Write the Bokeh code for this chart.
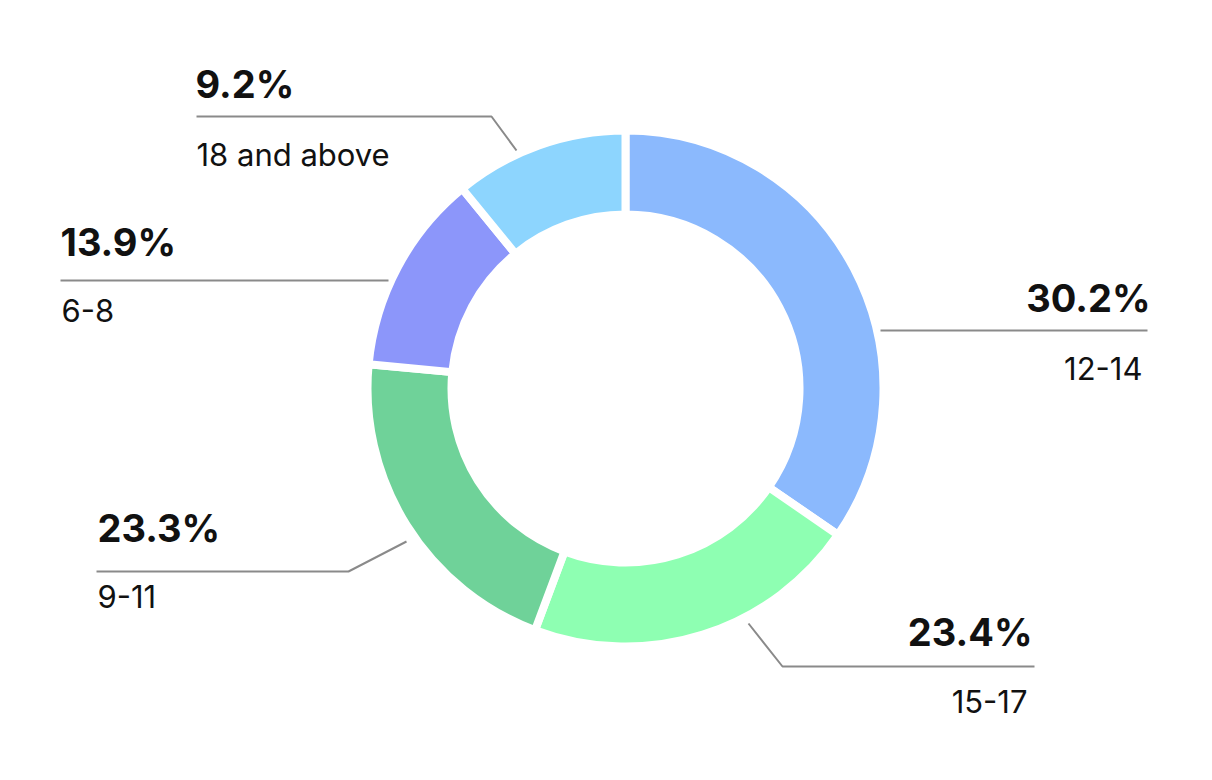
import math
from bokeh.plotting import figure
from bokeh.models import Range1d, ColumnDataSource
from bokeh.core.properties import value
from bokeh.embed import file_html
from bokeh.resources import INLINE

# ---- data ----
categories = ["12-14", "15-17", "9-11", "6-8", "18 and above"]
shares = [30.2, 23.4, 23.3, 13.9, 9.2]            # labelled percentages
arc_shares = [34.6, 21.1, 20.8, 12.6, 10.9]       # arc sizes as drawn in the picture
colors = ["#8BB9FD", "#8EFFB2", "#6FD299", "#8C96FA", "#8DD5FE"]

# ---- layout (page pixel coordinates) ----
CX, CY = 625, 388
R_OUT, R_IN = 258, 174
FONT = "Inter"
PCT_SHIFT, NAME_SHIFT = 15, 12

# per-label layout: text anchor x, align, pct baseline, name baseline, leader polyline
label_layout = {
    "12-14": dict(x=1150, nx=1142, align="right", py=312, ny=380,
                  line=[(1147, 330), (880, 330)]),
    "15-17": dict(x=1032, nx=1027, align="right", py=646, ny=713,
                  line=[(1034, 666), (782, 666), (748, 623)]),
    "9-11": dict(x=97, nx=97, align="left", py=542, ny=608,
                 line=[(96, 571), (348, 571), (406, 541)]),
    "6-8": dict(x=60, nx=61, align="left", py=256, ny=322,
                line=[(60, 280), (388, 280)]),
    "18 and above": dict(x=195, nx=196, align="left", py=98, ny=166,
                         line=[(196, 116), (491, 116), (516, 150)]),
}

W, H = 1196, 764
p = figure(width=W, height=H, output_backend="svg", toolbar_location=None,
           x_range=Range1d(0, W), y_range=Range1d(-H, 0),
           min_border=0)
p.axis.visible = False
p.grid.visible = False
p.outline_line_color = None
p.background_fill_color = "white"

total = sum(arc_shares)
starts, ends = [], []
cum = 0.0
for s in arc_shares:
    starts.append(math.pi / 2 - 2 * math.pi * cum / total)
    cum += s
    ends.append(math.pi / 2 - 2 * math.pi * cum / total)

src = ColumnDataSource(dict(cat=categories, share=shares, color=colors,
                            start=starts, end=ends))
p.annular_wedge(x=CX, y=-CY, inner_radius=R_IN, outer_radius=R_OUT,
                start_angle="start", end_angle="end", direction="clock",
                fill_color="color", line_color="white", line_width=8,
                source=src)

for cat, s in zip(categories, shares):
    lay = label_layout[cat]
    xs = [pt[0] for pt in lay["line"]]
    ys = [-pt[1] for pt in lay["line"]]
    p.line(xs, ys, line_color="#8a8a8a", line_width=2)
    p.text(x=[lay["x"]], y=[-(lay["py"] - PCT_SHIFT)], text=[f"{s:.1f}%"],
           text_font=value(FONT), text_font_style="bold",
           text_font_size="38px", text_color="#111111",
           text_align=lay["align"], text_baseline="alphabetic")
    p.text(x=[lay["nx"]], y=[-(lay["ny"] - NAME_SHIFT)], text=[cat],
           text_font=value(FONT), text_font_size="31px",
           text_color="#111111",
           text_align=lay["align"], text_baseline="alphabetic")

open("out.html", "w").write(file_html(p, INLINE))
